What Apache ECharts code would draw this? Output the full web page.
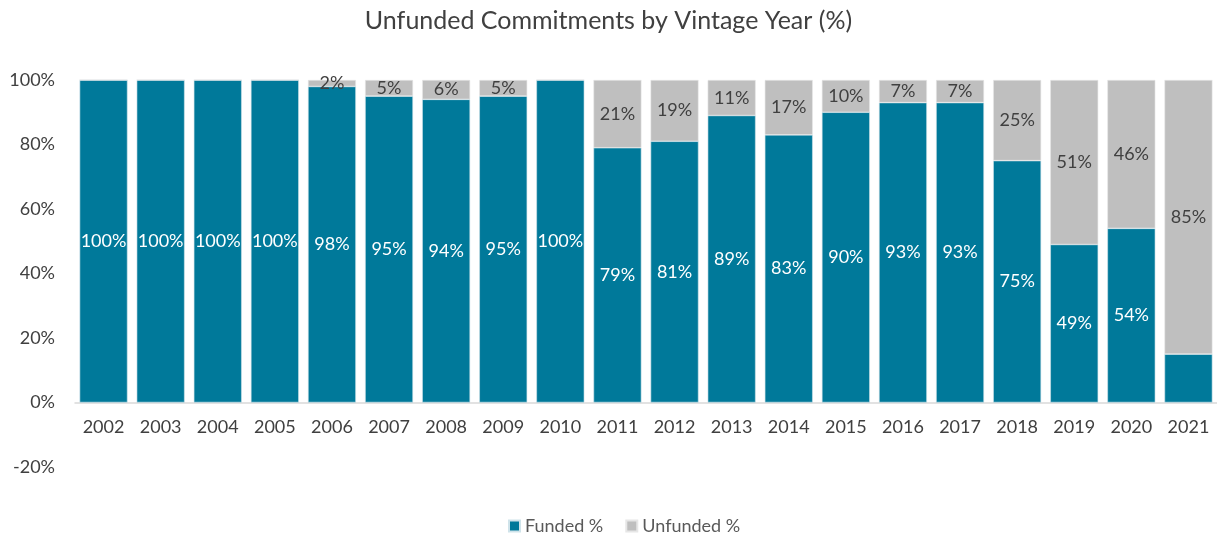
<!DOCTYPE html>
<html><head><meta charset="utf-8">
<script src="https://cdn.jsdelivr.net/npm/echarts@6/dist/echarts.min.js"></script>
<style>html,body{margin:0;padding:0;background:#fff}#c{width:1217px;height:537px}</style>
</head><body><div id="c"></div>
<script>
const years = ['2002','2003','2004','2005','2006','2007','2008','2009','2010','2011','2012','2013','2014','2015','2016','2017','2018','2019','2020','2021'];
const funded = [100,100,100,100,98,95,94,95,100,79,81,89,83,90,93,93,75,49,54,15];
const unfunded = [0,0,0,0,2,5,6,5,0,21,19,11,17,10,7,7,25,51,46,85];
const hideFundedLabel = ['2021'];
const yTicks = {min:-20, max:100, interval:20};

const font = 'Lato, sans-serif';
const chart = echarts.init(document.getElementById('c'));
chart.setOption({
  animation:false,
  textStyle:{fontFamily:font},
  title:{text:'Unfunded Commitments by Vintage Year (%)', left:'center', top:3,
    textStyle:{fontFamily:font, fontSize:25, fontWeight:'normal', color:'#404040'}},
  legend:{top:512, left:503, itemWidth:11, itemHeight:11, itemGap:22, icon:'rect',
    textStyle:{fontFamily:font, fontSize:18, color:'#595959'},
    data:['Funded %','Unfunded %']},
  grid:{left:75, right:0, top:80, bottom:70},
  xAxis:{type:'category', data:years, offset:-64.5,
    axisLine:{onZero:false, lineStyle:{color:'#d9d9d9', width:1.5}}, axisTick:{show:false},
    axisLabel:{fontFamily:font, fontSize:18, color:'#404040', margin:16}},
  yAxis:{type:'value', min:yTicks.min, max:yTicks.max, interval:yTicks.interval,
    splitLine:{show:false}, axisLine:{show:false}, axisTick:{show:false},
    axisLabel:{fontFamily:font, fontSize:18, color:'#404040', margin:20, formatter:'{value}%'}},
  series:[
    {name:'Funded %', type:'bar', stack:'t', barCategoryGap:'16%',
     itemStyle:{color:'#00799A', borderColor:'#cfe3ea', borderWidth:0.6},
     label:{show:true, position:'inside', color:'#ffffff', fontFamily:font, fontSize:18, formatter:'{c}%'},
     data:funded.map((v,i)=>({value:v, label:{show:hideFundedLabel.indexOf(years[i])<0}}))},
    {name:'Unfunded %', type:'bar', stack:'t', barCategoryGap:'16%',
     itemStyle:{color:'#BFBFBF', borderColor:'#e6e6e6', borderWidth:0.6},
     label:{show:true, position:'inside', color:'#404040', fontFamily:font, fontSize:18, formatter:'{c}%'},
     data:unfunded.map(v=>({value:v, label:{show:v>0}}))}
  ]
});
</script></body></html>
